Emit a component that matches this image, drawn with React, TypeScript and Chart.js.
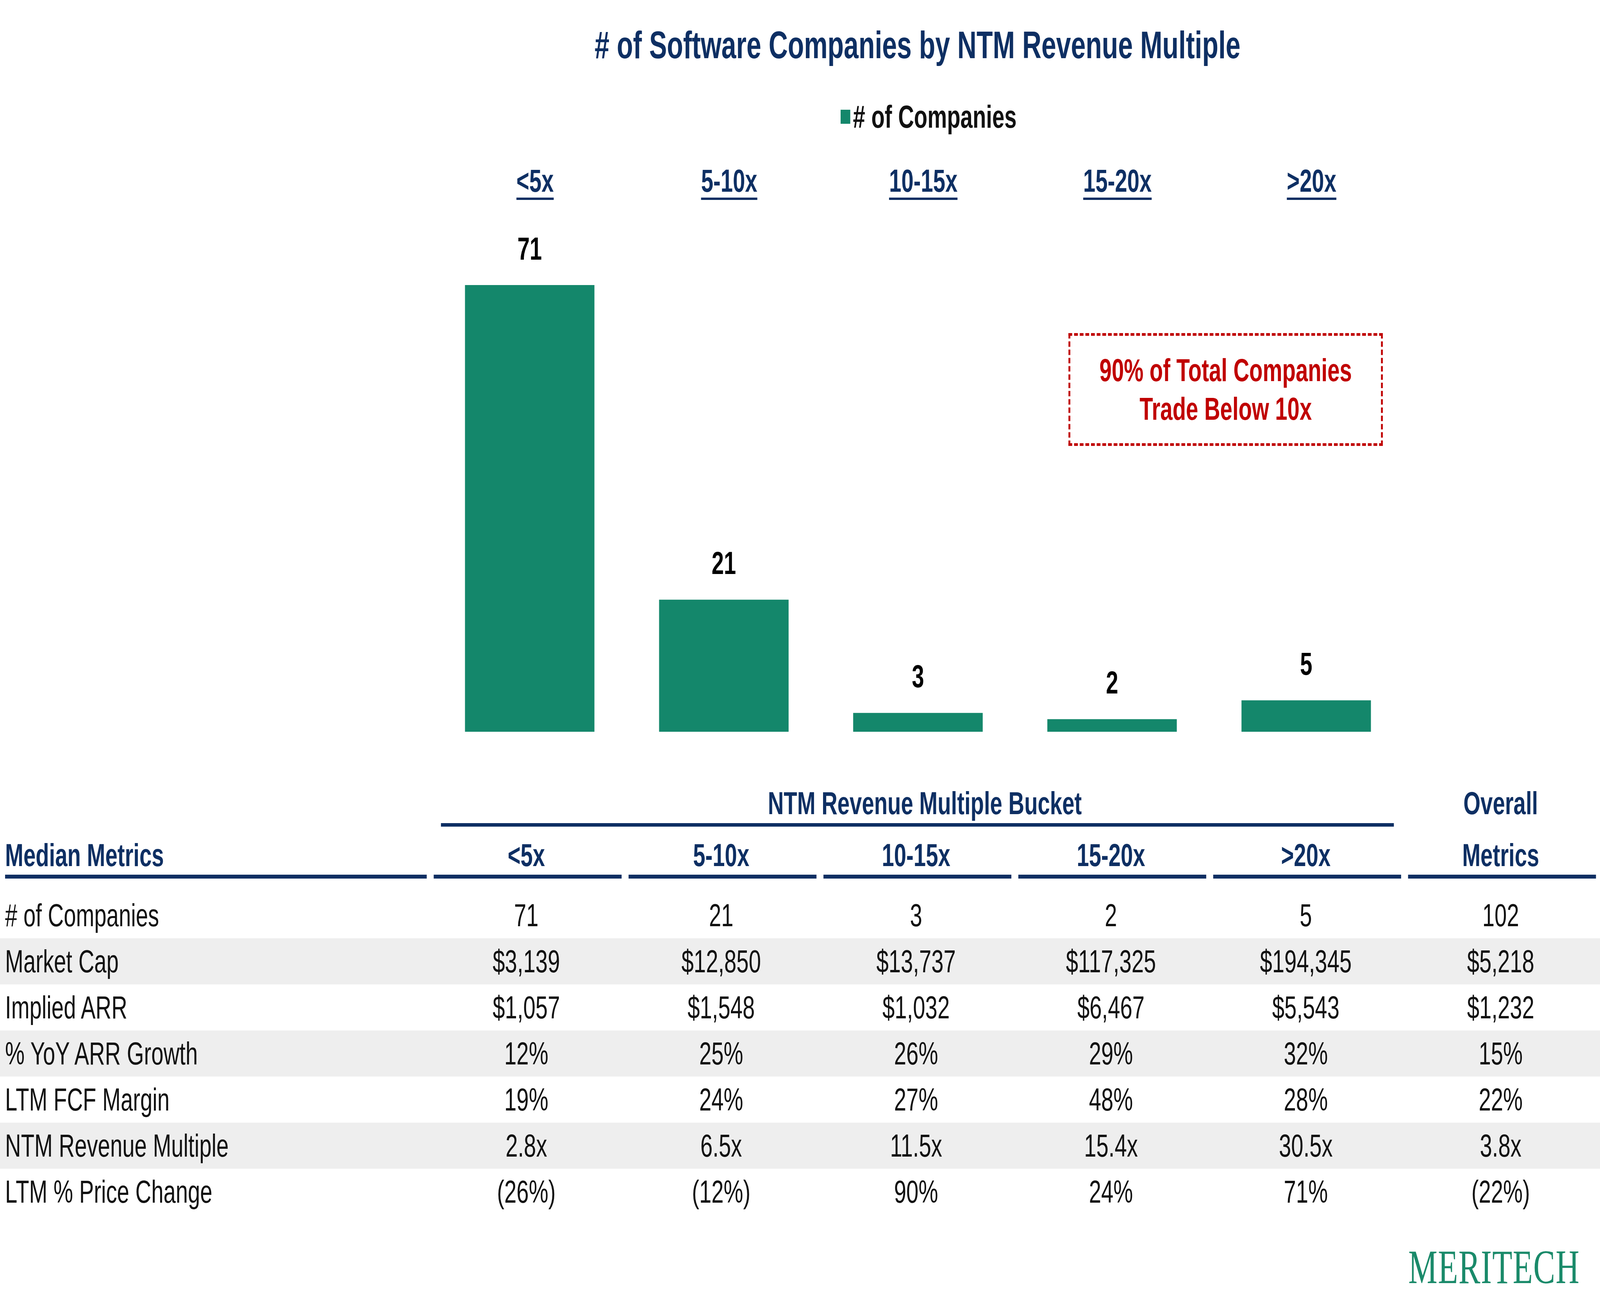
import React, { useEffect, useRef, useState } from "react";
import { Chart, registerables } from "chart.js";

Chart.register(...registerables);

const categories = ["<5x", "5-10x", "10-15x", "15-20x", ">20x"];
const companyCounts = [71, 21, 3, 2, 5];

const tableColumns = ["<5x", "5-10x", "10-15x", "15-20x", ">20x"];
const rowLabels = [
  "# of Companies",
  "Market Cap",
  "Implied ARR",
  "% YoY ARR Growth",
  "LTM FCF Margin",
  "NTM Revenue Multiple",
  "LTM % Price Change",
];
const rowValues = [
  ["71", "21", "3", "2", "5", "102"],
  ["$3,139", "$12,850", "$13,737", "$117,325", "$194,345", "$5,218"],
  ["$1,057", "$1,548", "$1,032", "$6,467", "$5,543", "$1,232"],
  ["12%", "25%", "26%", "29%", "32%", "15%"],
  ["19%", "24%", "27%", "48%", "28%", "22%"],
  ["2.8x", "6.5x", "11.5x", "15.4x", "30.5x", "3.8x"],
  ["(26%)", "(12%)", "90%", "24%", "71%", "(22%)"],
];

const NAVY = "#0E2F63";
const TEAL = "#14876B";
const RED = "#C00000";
const FONT = "'Liberation Sans', Arial, sans-serif";

const W = 5969;
const H = 3360;
const FIRST_W = 1600;
const COL_W = 727;
const FS = 82;

const labelPlugin = {
  id: "labels",
  afterDatasetsDraw(chart: any) {
    const ctx = chart.ctx;
    const meta = chart.getDatasetMeta(0);
    const x = chart.scales.x;
    ctx.save();
    ctx.textAlign = "center";
    ctx.textBaseline = "middle";
    meta.data.forEach((bar: any, i: number) => {
      ctx.fillStyle = "#000";
      ctx.font = `bold ${FS}px ${FONT}`;
      ctx.fillText(String(companyCounts[i]), bar.x, bar.y - 88);
    });
    categories.forEach((c, i) => {
      const cx = x.getPixelForValue(i) + 20;
      ctx.fillStyle = NAVY;
      ctx.font = `bold ${FS}px ${FONT}`;
      ctx.fillText(c, cx, 68);
      const w = ctx.measureText(c).width;
      ctx.fillRect(cx - w / 2, 106, w, 6);
    });
    ctx.restore();
  },
};

function BarChart() {
  const ref = useRef<HTMLCanvasElement>(null);
  useEffect(() => {
    if (!ref.current) return;
    const chart = new Chart(ref.current, {
      type: "bar",
      data: {
        labels: categories,
        datasets: [
          {
            label: "# of Companies",
            data: companyCounts,
            backgroundColor: TEAL,
            barPercentage: 1,
            categoryPercentage: 0.667,
          },
        ],
      },
      options: {
        animation: false,
        responsive: true,
        maintainAspectRatio: false,
        devicePixelRatio: 1,
        layout: { padding: { top: 185, left: 0, right: 0, bottom: 0 } },
        plugins: { legend: { display: false }, tooltip: { enabled: false } },
        scales: {
          x: { display: false },
          y: { display: false, min: 0, max: 80 },
        },
      },
      plugins: [labelPlugin],
    });
    return () => chart.destroy();
  }, []);
  return (
    <div style={{ position: "absolute", left: 1614, top: 400, width: 3621, height: 1474 }}>
      <canvas ref={ref} />
    </div>
  );
}

const abs = (s: React.CSSProperties): React.CSSProperties => ({ position: "absolute", ...s });

export default function App() {
  const [vp, setVp] = useState({ w: window.innerWidth, h: window.innerHeight });
  useEffect(() => {
    document.body.style.margin = "0";
    document.body.style.overflow = "hidden";
    const f = () => setVp({ w: window.innerWidth, h: window.innerHeight });
    window.addEventListener("resize", f);
    f();
    return () => window.removeEventListener("resize", f);
  }, []);
  const sx = vp.w / W;
  const sy = vp.h / H;
  const rowTop = 2285;
  const rowH = 118;
  return (
    <div style={abs({ left: 0, top: 0, width: W, height: H, background: "#fff", fontFamily: FONT, overflow: "hidden", transformOrigin: "0 0", transform: `scale(${sx}, ${sy})` })}>
      <div style={abs({ left: 0, width: 6846, top: 58, textAlign: "center", fontSize: 99, fontWeight: "bold", color: NAVY })}>
        # of Software Companies by NTM Revenue Multiple
      </div>
      <div style={abs({ left: 3136, top: 252, fontSize: FS, fontWeight: "bold", color: "#111", display: "flex", alignItems: "center" })}>
        <span style={{ display: "inline-block", width: 36, height: 36, background: TEAL, marginRight: 10 }} />
        # of Companies
      </div>
      <BarChart />
      <div style={abs({ left: 3986, top: 853, width: 1173, height: 289, boxSizing: "border-box", border: `7px dashed ${RED}`, color: RED, fontWeight: "bold", fontSize: FS, display: "flex", alignItems: "center", justifyContent: "center", textAlign: "center", lineHeight: 1.2 })}>
        90% of Total Companies<br />Trade Below 10x
      </div>

      {/* table */}
      <div style={abs({ left: FIRST_W + 45, width: COL_W * 5 - 25, top: 2010, textAlign: "center", fontSize: FS, fontWeight: "bold", color: NAVY })}>
        NTM Revenue Multiple Bucket
      </div>
      <div style={abs({ left: 1645, width: 3555, top: 2108, height: 9, background: NAVY })} />
      <div style={abs({ left: FIRST_W + COL_W * 5, width: COL_W, top: 2010, textAlign: "center", fontSize: FS, fontWeight: "bold", color: NAVY })}>
        Overall
      </div>
      <div style={abs({ left: 0, top: 2142, width: W, height: 96, display: "flex", fontSize: FS, fontWeight: "bold", color: NAVY, lineHeight: "96px" })}>
        <div style={{ width: FIRST_W, paddingLeft: 19, boxSizing: "border-box" }}>Median Metrics</div>
        {[...tableColumns, "Metrics"].map((c) => (
          <div key={c} style={{ width: COL_W, textAlign: "center" }}>{c}</div>
        ))}
      </div>
      <div style={abs({ left: 19, width: 1573, top: 2240, height: 10, background: NAVY })} />
      {[0, 1, 2, 3, 4, 5].map((i) => (
        <div key={i} style={abs({ left: FIRST_W + 18 + i * COL_W, width: COL_W - 26, top: 2240, height: 10, background: NAVY })} />
      ))}
      {rowLabels.map((label, r) => (
        <div key={label} style={abs({ left: 0, top: rowTop + r * rowH, width: W, height: rowH, display: "flex", fontSize: FS, color: "#111", lineHeight: rowH + "px", background: r % 2 === 1 ? "#EEEEEE" : "transparent" })}>
          <div style={{ width: FIRST_W, paddingLeft: 19, boxSizing: "border-box" }}>{label}</div>
          {rowValues[r].map((v, i) => (
            <div key={i} style={{ width: COL_W, textAlign: "center" }}>{v}</div>
          ))}
        </div>
      ))}
      <div style={abs({ left: 5254, top: 3175, fontSize: 122, color: "#1A8A6A", fontFamily: "'Liberation Serif', serif", letterSpacing: 2 })}>
        MERITECH
      </div>
    </div>
  );
}
